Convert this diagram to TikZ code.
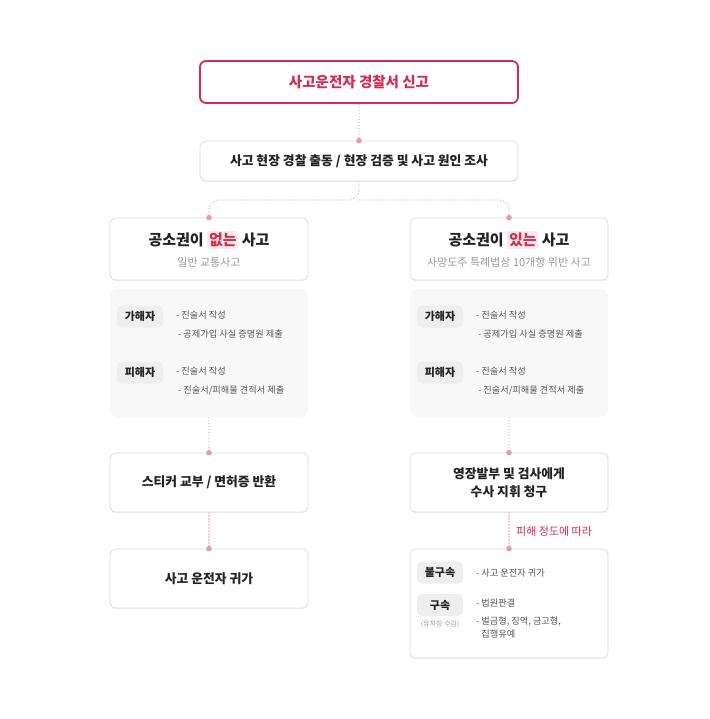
\documentclass[tikz,border=0pt]{standalone}
\usepackage{fontspec}
\setmainfont{Noto Sans CJK KR}
\usetikzlibrary{positioning,shadows}
\definecolor{brand}{HTML}{D52B4E}
\definecolor{dotc}{HTML}{E89AAE}
\definecolor{linec}{HTML}{F6CCD6}
\definecolor{bordc}{HTML}{DCDCDC}
\definecolor{panelc}{HTML}{F8F8F8}
\definecolor{tagc}{HTML}{EEEEEE}
\definecolor{darkt}{HTML}{222222}
\definecolor{subt}{HTML}{999999}
\definecolor{bult}{HTML}{555555}
\definecolor{hlc}{HTML}{FDEAEE}
\tikzset{
  x=1pt, y=-1pt,
  card/.style={draw=bordc, line width=0.7pt, fill=white, rounded corners=6pt,
    drop shadow={shadow xshift=0pt, shadow yshift=-1.2pt, opacity=0.06, fill=black},
    minimum width=198pt, align=center, inner sep=0pt, text=darkt},
  topcard/.style={draw=brand, line width=1.8pt, fill=white, rounded corners=6pt,
    minimum width=318pt, minimum height=42pt, text=brand, inner sep=0pt},
  panel/.style={fill=panelc, rounded corners=8pt, draw=none},
  tag/.style={fill=tagc, rounded corners=5pt, minimum width=46pt, minimum height=22pt,
    inner sep=0pt, text=darkt, font=\fontsize{11}{13}\selectfont\bfseries},
  bul/.style={anchor=west, inner sep=0pt, text=bult, font=\fontsize{9.2}{11}\selectfont},
  conn/.style={draw=linec, line width=1.3pt, dash pattern=on 1.4pt off 1.6pt},
  dotmark/.style={circle, fill=dotc, inner sep=0pt, minimum size=5.6pt},
  hl/.style={fill=hlc, inner sep=1.8pt, text=brand},
}
\begin{document}
\begin{tikzpicture}
\useasboundingbox[fill=white] (0,0) rectangle (709,719);

% top
\node[topcard, font=\fontsize{14.5}{16}\selectfont\bfseries] (top) at (359,82) {사고운전자 경찰서 신고};
\node[card, minimum width=318pt, minimum height=40pt, font=\fontsize{12.8}{15}\selectfont\bfseries] (inv) at (359,161) {사고 현장 경찰 출동 / 현장 검증 및 사고 원인 조사};

% left branch
\node[card, minimum height=62pt] (lt) at (209,249) {};
\node[text=darkt, font=\fontsize{15}{17}\selectfont\bfseries, inner sep=0pt] (ltt) at (209,240) {공소권이 \tikz[baseline=(h.base)]\node[hl,font=\fontsize{15}{17}\selectfont\bfseries](h){없는};\ 사고};
\node[text=subt, font=\fontsize{11}{13}\selectfont, inner sep=0pt] (lts) at (209,262) {일반 교통사고};

\path[panel] (110,289) rectangle (308,417);
\coordinate (lpb) at (209,417);
\node[tag] (lta) at (140,316.5) {가해자};
\node[bul] (lb1) at (176,315) {- 진술서 작성};
\node[bul] (lb2) at (178,334) {- 공제가입 사실 증명원 제출};
\node[tag] (ltb) at (140,372.5) {피해자};
\node[bul] (lb3) at (176,371) {- 진술서 작성};
\node[bul] (lb4) at (178,390) {- 진술서/피해물 견적서 제출};

\node[card, minimum height=59pt, font=\fontsize{12.8}{15}\selectfont\bfseries] (sticker) at (209,482.5) {스티커 교부 / 면허증 반환};
\node[card, minimum height=59pt, font=\fontsize{12.8}{15}\selectfont\bfseries] (home) at (209,578.5) {사고 운전자 귀가};

% right branch
\node[card, minimum height=62pt] (rt) at (509,249) {};
\node[text=darkt, font=\fontsize{15}{17}\selectfont\bfseries, inner sep=0pt] (rtt) at (509,240) {공소권이 \tikz[baseline=(h.base)]\node[hl,font=\fontsize{15}{17}\selectfont\bfseries](h){있는};\ 사고};
\node[text=subt, font=\fontsize{11}{13}\selectfont, inner sep=0pt] (rts) at (509,262) {사망도주 특례법상 10개항 위반 사고};

\path[panel] (410,289) rectangle (608,417);
\coordinate (rpb) at (509,417);
\node[tag] (rta) at (440,316.5) {가해자};
\node[bul] (rb1) at (476,315) {- 진술서 작성};
\node[bul] (rb2) at (478,334) {- 공제가입 사실 증명원 제출};
\node[tag] (rtb) at (440,372.5) {피해자};
\node[bul] (rb3) at (476,371) {- 진술서 작성};
\node[bul] (rb4) at (478,390) {- 진술서/피해물 견적서 제출};

\node[card, minimum height=59pt, font=\fontsize{12.8}{18}\selectfont\bfseries] (warrant) at (509,482.5) {영장발부 및 검사에게\\수사 지휘 청구};
\node[card, minimum height=109pt] (res) at (509,603.5) {};
\node[tag] (rtc) at (440,572.5) {불구속};
\node[bul] (rc1) at (476,573) {- 사고 운전자 귀가};
\node[tag] (rtd) at (440,605) {구속};
\node[text=subt, font=\fontsize{7}{8}\selectfont, inner sep=0pt] (rtds) at (440,624) {(유치장 수감)};
\node[bul] (rd1) at (476,603) {- 법원판결};
\node[bul, align=left, anchor=north west, font=\fontsize{9.2}{13}\selectfont] (rd2) at (476,617) {- 벌금형, 징역, 금고형,\\\phantom{- }집행유예};

% connectors
\draw[conn] (top.south) -- (inv.north);
\draw[conn, rounded corners=10pt] (inv.south) -- (359,200) -| (lt.north);
\draw[conn, rounded corners=10pt] (359,200) -| (rt.north);
\draw[conn] (lpb) -- (sticker.north);
\draw[conn] (sticker.south) -- (home.north);
\draw[conn] (rpb) -- (warrant.north);
\draw[conn] (warrant.south) -- (res.north);
\node[anchor=west, text=brand, font=\fontsize{11}{13}\selectfont, inner sep=0pt] (lab) at (516,531) {피해 정도에 따라};

\foreach \n in {inv, lt, rt, sticker, home, warrant, res} \node[dotmark] at (\n.north) {};
\end{tikzpicture}
\end{document}
